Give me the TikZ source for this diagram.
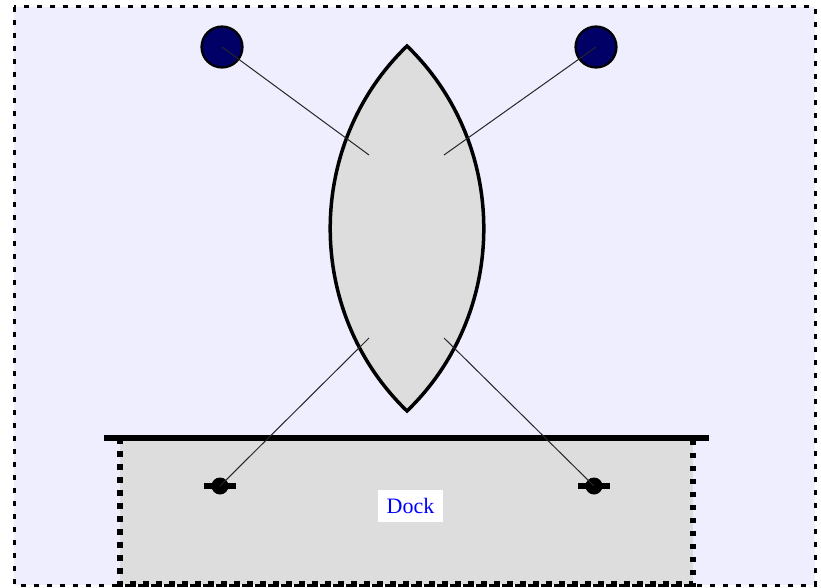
\documentclass[tikz,border=0pt]{standalone}
\usepackage{fontspec}
\setmainfont{Liberation Serif}
\definecolor{bgfill}{HTML}{EEEEFF}
\definecolor{grayfill}{HTML}{DDDDDD}
\definecolor{buoyfill}{HTML}{000066}
\tikzset{
  outerframe/.style={draw=black, line width=3pt, dash pattern=on 5pt off 8pt, fill=bgfill},
  dockbox/.style={draw=black, line width=5.5pt, dash pattern=on 5.5pt off 7.5pt, fill=grayfill},
  boatshape/.style={draw=black, line width=3.5pt, fill=grayfill, line join=miter},
  buoy/.style={circle, draw=black, line width=2.2pt, fill=buoyfill, minimum size=41pt, inner sep=0pt},
  rope/.style={draw=black!85, line width=1pt},
  cleatdot/.style={circle, fill=black, minimum size=17pt, inner sep=0pt},
  docklabel/.style={fill=white, text=blue, font=\fontsize{22}{24}\selectfont, minimum width=65pt, minimum height=32pt, inner sep=0pt}
}
\begin{document}
\begin{tikzpicture}[x=1pt, y=-1pt]
\useasboundingbox (0,0) rectangle (821,588);
% water
\path[outerframe] (14,7) rectangle (815,585);
% dock
\path[dockbox] (120,438) rectangle (693,584);
\coordinate (dl) at (104,438);
\coordinate (dr) at (709,438);
\draw[line width=6.5pt] (dl) -- (dr);
% boat
\coordinate (bow) at (407,46);
\coordinate (stern) at (407,411);
\path[boatshape] (bow) to[bend right=46] (stern) to[bend right=46] (bow) -- cycle;
% buoys
\node[buoy] (b1) at (222,47) {};
\node[buoy] (b2) at (596,47) {};
% cleats
\draw[line width=6pt] (204,486) -- (236,486);
\draw[line width=6pt] (578,486) -- (610,486);
\node[cleatdot] (c1) at (220,486) {};
\node[cleatdot] (c2) at (594,486) {};
% rope attachment points on the boat
\coordinate (p1) at (369,155);
\coordinate (p2) at (444,155);
\coordinate (p3) at (369,338);
\coordinate (p4) at (444,338);
\draw[rope] (b1.center) -- (p1);
\draw[rope] (b2.center) -- (p2);
\draw[rope] (p3) -- (c1.center);
\draw[rope] (p4) -- (c2.center);
% label
\node[docklabel] (lbl) at (410.5,506) {Dock};
\end{tikzpicture}
\end{document}
